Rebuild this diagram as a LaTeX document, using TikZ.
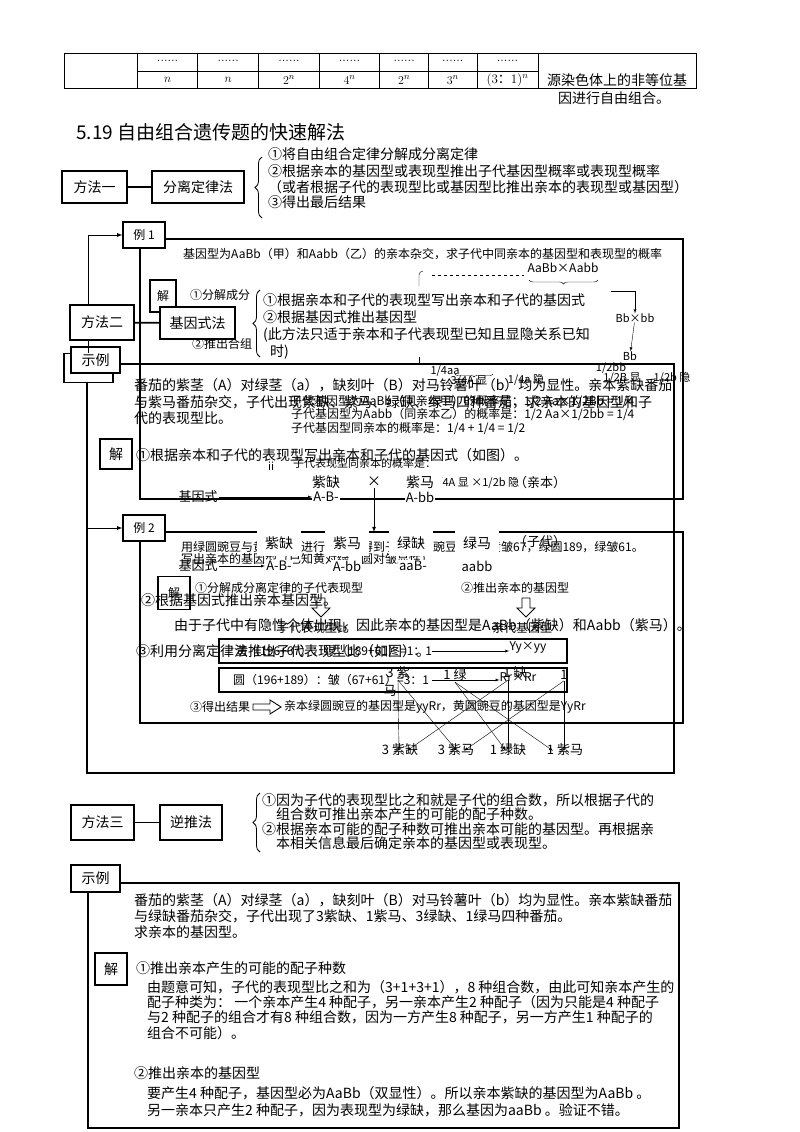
\documentclass[tikz,border=0pt]{standalone}
\usepackage{fontspec}
\newfontfamily\cjk{Noto Sans CJK SC}
\usepackage{tikz}
\usetikzlibrary{decorations.pathreplacing}
\tikzstyle{box} = [draw=black, line width=1.5pt, fill=white, inner sep=0pt, font={\cjk\fontsize{14}{16}\selectfont}]
\tikzstyle{smallbox} = [box, line width=1.2pt, font={\cjk\fontsize{12}{14}\selectfont}]
\tikzstyle{txt} = [anchor=west, inner sep=0pt, font={\cjk\fontsize{14}{16}\selectfont}]
\tikzstyle{sm} = [anchor=west, inner sep=0pt, font={\cjk\fontsize{12}{14}\selectfont}]
\tikzstyle{note} = [anchor=west, inner sep=0pt, font={\cjk\fontsize{11}{13}\selectfont}]
\tikzstyle{frame} = [draw=black, line width=1.6pt]
\tikzstyle{cell} = [inner sep=0pt, font={\fontsize{13}{15}\selectfont}]
\tikzstyle{tag} = [fill=white, inner sep=0pt, minimum width=44pt, minimum height=26pt, font={\cjk\fontsize{14}{16}\selectfont}]
\tikzstyle{gene} = [fill=white, inner sep=1pt, font={\cjk\fontsize{13}{15}\selectfont}]
\tikzstyle{brc} = [decorate, decoration={brace, amplitude=7pt}, thick]
\tikzstyle{hollow} = [draw=black, line width=0.9pt]

\begin{document}
\begin{tikzpicture}[x=1pt,y=-1pt,>=latex]
    \useasboundingbox (0,0) rectangle (800,1132);
    \fill[white] (0,0) rectangle (800,1132);

    % table
    \draw[line width=0.8pt] (64,53) rectangle (696,88);
    \draw[line width=0.8pt] (137.6,71) -- (538,71);
    \foreach \x in {137.6,197.7,258.7,319.2,379.7,428.6,477,538}
      \draw[line width=0.8pt] (\x,53) -- (\x,88);
    \foreach \x/\t [count=\i] in {167.6/$n$,228.2/$n$,289/$2^n$,349.5/$4^n$,404.2/$2^n$,452.8/$3^n$,507.5/{(3{\cjk ：}1)$^n$}} {
      \node[cell](d\i) at (\x,61){......};
      \node[cell](n\i) at (\x,80){\t};
    }
    \node[txt,anchor=center](src1) at (617,80){源染色体上的非等位基};
    \node[txt,anchor=center](src2) at (614,98){因进行自由组合。};

    \node[anchor=west,inner sep=0pt,font={\cjk\fontsize{19}{22}\selectfont}](title) at (76,132){5.19 自由组合遗传题的快速解法};

    % method one
    \node[box,minimum width=65pt,minimum height=32pt](m1) at (94.5,187){方法一};
    \node[box,minimum width=92pt,minimum height=32pt](m1b) at (198,187){分离定律法};
    \draw[line width=1.8pt](m1)--(m1b);
    \draw[brc](262,218)--(262,157);
    \node[txt](m1t1) at (268,154){①将自由组合定律分解成分离定律};
    \node[txt](m1t2) at (268,171){②根据亲本的基因型或表现型推出子代基因型概率或表现型概率};
    \node[txt](m1t3) at (268,187){（或者根据子代的表现型比或基因型比推出亲本的表现型或基因型）};
    \node[txt](m1t4) at (268,202){③得出最后结果};

    % example 1
    \node[smallbox,minimum width=42pt,minimum height=26pt](ex1) at (144,235){例 1};
    \draw[frame](165,239)--(683,239)--(683,499)--(140,499)--(140,248);
    \node[sm](q0) at (183,254){基因型为AaBb（甲）和Aabb（乙）的亲本杂交，求子代中同亲本的基因型和表现型的概率};
    \draw(419,286)--(419,275)to[out=90,in=180](423,271);
    \draw(419,357)--(419,364);
    \draw[dashed](432,275)--(524,275);
    \node[sm,anchor=center](p1) at (563,268){AaBb×Aabb};
    \draw[decorate,decoration={brace,amplitude=4pt}](598,280)--(529,280);
    \coordinate(q1) at (611,291);
    \node[note,anchor=center](p2) at (635,318){Bb×bb};
    \node[note,anchor=center](p3) at (630,356){Bb};
    \draw[->](q1)-|(p2.north);
    \draw[->](p2)--(p3);
    \node[note,anchor=center](p4) at (611,368){1/2bb};
    \node[note,anchor=center](p5) at (622,378){1/2B 显};
    \node[note,anchor=center](p6) at (672,378){1/2b 隐};
    \node[note,anchor=center](p7) at (445,371){1/4aa};
    \draw[decorate,decoration={brace,amplitude=3pt}](493,374)--(455,374);
    \node[note,anchor=center](p8) at (469,381){3/4A 显};
    \node[note,anchor=center](p9) at (526,380){1/4a 隐};
    \node[sm](q2) at (290,401){子代基因型为AaBb（同亲本甲）的概率是：1/2 Aa×1/2Bb = 1/4};
    \node[sm](q3) at (291,414){子代基因型为Aabb（同亲本乙）的概率是：1/2 Aa×1/2bb = 1/4};
    \node[sm](q4) at (291,428){子代基因型同亲本的概率是：1/4 + 1/4 = 1/2};
    \node[note](q5) at (293,463){子代表现型同亲本的概率是：};
    \node[note](q6) at (268,466){ii};
    \node[note](q7) at (432,483){3/4A 显 ×1/2b 隐};

    % method two
    \node[smallbox,minimum width=26pt,minimum height=32pt](j1) at (163,296){解};
    \node[sm](f1) at (190,295){①分解成分};
    \node[sm](f2) at (192,344){②推出合组};
    \node[box,minimum width=64pt,minimum height=35pt](m2) at (102,322.5){方法二};
    \node[box,minimum width=75pt,minimum height=32pt](m2b) at (197.5,323){基因式法};
    \draw[line width=1.8pt](m2)--(m2b);
    \coordinate(v1) at (88,250);
    \draw[->,line width=0.8pt](m2.north -| v1)|-(ex1.west);
    \draw[brc](260,357)--(260,290);
    \node[txt](m2t1) at (263,300){①根据亲本和子代的表现型写出亲本和子代的基因式};
    \node[txt](m2t2) at (263,317){②根据基因式推出基因型};
    \node[txt](m2t3) at (263,335){(此方法只适于亲本和子代表现型已知且显隐关系已知};
    \node[txt](m2t4) at (270,352){时)};

    % sample under method two
    \node[box,minimum width=49pt,minimum height=29pt](sl1s) at (88.5,368){};
    \node[box,minimum width=49pt,minimum height=26pt](sl1) at (95.5,360){示例};
    \draw[line width=0.8pt](m2.south -| v1)--(sl1s.north -| v1);
    \draw[frame](120,364)--(674,364)--(674,773)--(87,773)--(87,383);
    \node[txt](a1) at (134,385){番茄的紫茎（A）对绿茎（a），缺刻叶（B）对马铃薯叶（b）均为显性。亲本紫缺番茄};
    \node[txt](a2) at (134,402){与紫马番茄杂交，子代出现紫缺、紫马、绿缺、绿马四种番茄，求亲本的基因型和子};
    \node[txt](a3) at (134,418){代的表现型比。};
    \node[box,line width=1.2pt,minimum width=32pt,minimum height=30pt](j2) at (116,454){解};
    \node[txt](a4) at (136,455){①根据亲本和子代的表现型写出亲本和子代的基因式（如图）。};
    \node[tag](h1) at (326,482){紫缺};
    \node[gene,font={\cjk\fontsize{14}{16}\selectfont}](hx) at (374,482){×};
    \node[tag](h2) at (420,482){紫马};
    \node[gene,fill=none](h3) at (540,483){（亲本）};
    \node[gene,fill=none](gs1) at (198,497){基因式};
    \node[gene](g1) at (326,497){A-B-};
    \node[gene](g2) at (420,497){A-bb};
    \draw[->](gs1)--(g1);
    \coordinate(hxe) at (374,532);
    \draw[->,line width=0.8pt](hx)--(hxe);

    % example 2
    \node[smallbox,minimum width=42pt,minimum height=26pt](ex2) at (144,528){例 2};
    \coordinate(c2) at (88,528);
    \draw[->,line width=0.8pt](c2)--(ex2.west);
    \draw[frame](165,532)--(683,532)--(683,723)--(140,723)--(140,541);
    \node[sm](b1) at (181,547){用绿圆豌豆与黄圆豌豆进行杂交，得到子代黄圆豌豆196，黄皱67，绿圆189，绿皱61。};
    \node[sm](b2) at (181,559){写出亲本的基因型（已知黄对绿、圆对皱显性）};
    \node[tag](k1) at (279,543){紫缺};
    \node[tag](k2) at (347,543){紫马};
    \node[tag](k3) at (411,543){绿缺};
    \node[tag](k4) at (477,543){绿马};
    \node[gene,fill=none](k5) at (540,542){（子代）};
    \node[gene,fill=none](gs2) at (198,566){基因式};
    \node[gene](r1) at (279,566){A-B-};
    \node[gene](r2) at (347,566){A-bb};
    \node[gene](r3) at (413,566){aaB-};
    \node[gene](r4) at (477,566){aabb};
    \draw[->](gs2)--(r1);
    \node[smallbox,minimum width=32pt,minimum height=33pt](j3) at (174,593){解};
    \node[sm](b3) at (195,588){①分解成分离定律的子代表现型};
    \node[sm](b4) at (461,588){②推出亲本的基因型};
    \node[txt](a5) at (141,600){②根据基因式推出亲本基因型。};
    \draw[hollow](317,598)--(325,598)--(325,608)--(330,608)--(321,617)--(312,608)--(317,608)--cycle;
    \draw[hollow](522,598)--(530,598)--(530,608)--(535,608)--(526,617)--(517,608)--(522,608)--cycle;
    \node[sm,anchor=center](b5) at (313,628){子代表现型比};
    \node[sm,anchor=center](b6) at (522,628){亲代基因型};
    \node[txt](a6) at (174,625){由于子代中有隐性个体出现，因此亲本的基因型是AaBb（紫缺）和Aabb（紫马）。};
    \draw[line width=1.2pt](219,639) rectangle (567,663);
    \draw[line width=1.2pt](219,668) rectangle (567,692);
    \node[sm](w1) at (236,651){黄（196+67）：绿（189+61）=1：1};
    \node[sm](w2) at (233,680){圆（196+189）：皱（67+61）=3：1};
    \node[sm,anchor=center](y1) at (528,647){Yy×yy};
    \node[sm,anchor=center](y2) at (518,677){Rr×Rr};
    \coordinate(w1e) at (432,651);
    \coordinate(w2e) at (432,680);
    \draw[->](w1e)--(y1.west |- w1e);
    \draw[->](w2e)--(y2.west |- w2e);
    \node[txt](a7) at (136,651){③利用分离定律法推出子代表现型比（如图）。};
    \node[gene,fill=none](l1) at (398,673){3 紫};
    \node[gene,fill=none](l2) at (455,675){1 绿};
    \node[gene,fill=none](l3) at (515,673){1 缺};
    \node[gene,fill=none](l4) at (564,675){1};
    \node[gene,fill=none](l5) at (390,691){马};
    \node[sm](b7) at (190,707){③得出结果};
    \draw[hollow](253,704)--(270,704)--(270,700)--(281,707)--(270,714)--(270,710)--(253,710)--cycle;
    \node[sm](b8) at (284,707){亲本绿圆豌豆的基因型是yyRr，黄圆豌豆的基因型是YyRr};
    \node[gene,fill=none](t1) at (400,750){3 紫缺};
    \node[gene,fill=none](t2) at (456,750){3 紫马};
    \node[gene,fill=none](t3) at (508,750){1 绿缺};
    \node[gene,fill=none](t4) at (565,750){1 紫马};
    \draw[->](l1.south)--([xshift=-1pt,yshift=-8pt]t1.north);
    \draw[->](l1.south)--([xshift=1pt,yshift=-8pt]t2.north);
    \draw[->](l2.south)--([xshift=-2pt,yshift=-8pt]t3.north);
    \draw[->](l2.south)--([xshift=-12pt,yshift=-8pt]t4.north);
    \draw[->]([xshift=-7pt]l3.south)--([xshift=7pt,yshift=-8pt]t1.north);
    \draw[->]([xshift=-7pt]l3.south)--([yshift=-8pt]t3.north);
    \draw[->](l4.south)--([xshift=8pt,yshift=-8pt]t2.north);
    \draw[->](l4.south)--([xshift=-1pt,yshift=-8pt]t4.north);

    % method three
    \node[box,minimum width=63pt,minimum height=35pt](m3) at (102.5,822.5){方法三};
    \node[box,minimum width=62pt,minimum height=35pt](m3b) at (191,822.5){逆推法};
    \draw[line width=1.8pt](m3)--(m3b);
    \draw[brc](260,852)--(260,793);
    \node[txt](m3t1) at (262,800){①因为子代的表现型比之和就是子代的组合数，所以根据子代的};
    \node[txt](m3t2) at (276,814){组合数可推出亲本产生的可能的配子种数。};
    \node[txt](m3t3) at (262,829){②根据亲本可能的配子种数可推出亲本可能的基因型。再根据亲};
    \node[txt](m3t4) at (276,843){本相关信息最后确定亲本的基因型或表现型。};

    % sample under method three
    \node[box,minimum width=49pt,minimum height=27pt](sl2) at (95.5,878.5){示例};
    \draw[frame](120,883)--(679,883)--(679,1128)--(88,1128)--(88,892);
    \node[txt](e1) at (134,900){番茄的紫茎（A）对绿茎（a），缺刻叶（B）对马铃薯叶（b）均为显性。亲本紫缺番茄};
    \node[txt](e2) at (134,916){与绿缺番茄杂交，子代出现了3紫缺、1紫马、3绿缺、1绿马四种番茄。};
    \node[txt](e3) at (134,932){求亲本的基因型。};
    \node[box,line width=1.2pt,minimum width=32pt,minimum height=32pt](j4) at (111,969){解};
    \node[txt](e4) at (136,968){①推出亲本产生的可能的配子种数};
    \node[txt](e5) at (147,987){由题意可知，子代的表现型比之和为（3+1+3+1），8 种组合数，由此可知亲本产生的};
    \node[txt](e6) at (147,1002){配子种类为： 一个亲本产生4 种配子，另一亲本产生2 种配子（因为只能是4 种配子};
    \node[txt](e7) at (147,1017){与2 种配子的组合才有8 种组合数，因为一方产生8 种配子，另一方产生1 种配子的};
    \node[txt](e8) at (147,1033){组合不可能）。};
    \node[txt](e9) at (134,1073){②推出亲本的基因型};
    \node[txt](e10) at (147,1093){要产生4 种配子，基因型必为AaBb（双显性）。所以亲本紫缺的基因型为AaBb 。};
    \node[txt](e11) at (147,1110){另一亲本只产生2 种配子，因为表现型为绿缺，那么基因为aaBb 。验证不错。};
  \end{tikzpicture}
\end{document}
